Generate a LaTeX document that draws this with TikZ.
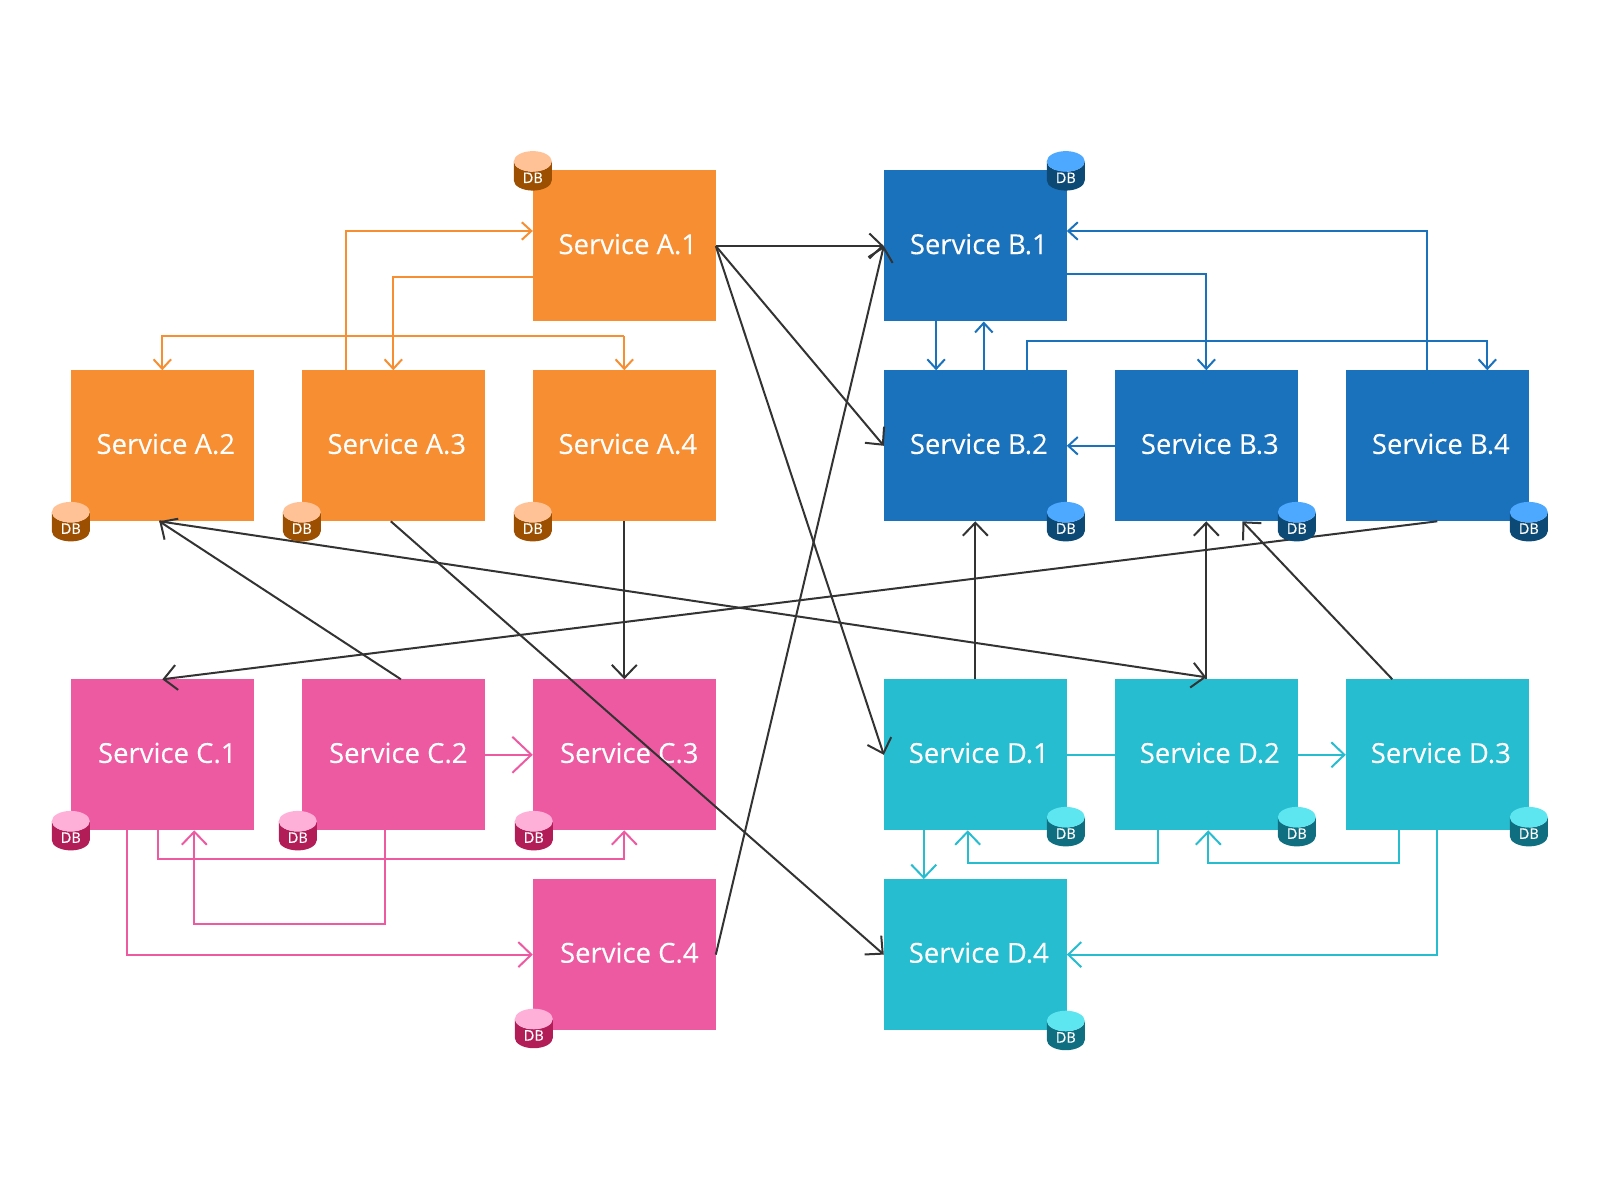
\documentclass[tikz,border=0pt]{standalone}
\usepackage{fontspec}
\setmainfont{Open Sans}
\usetikzlibrary{calc}
\usetikzlibrary{arrows.meta}
\usetikzlibrary{positioning}
\usetikzlibrary{shapes.geometric}
\definecolor{orangebox}{HTML}{F78E31}
\definecolor{orangedark}{HTML}{9C4F00}
\definecolor{orangetop}{HTML}{FFC297}
\definecolor{bluebox}{HTML}{1B72BC}
\definecolor{bluedark}{HTML}{0C4A75}
\definecolor{bluetop}{HTML}{4DA8FF}
\definecolor{pinkbox}{HTML}{EE5AA1}
\definecolor{pinkdark}{HTML}{B21C57}
\definecolor{pinktop}{HTML}{FFB0D9}
\definecolor{tealbox}{HTML}{27BDD0}
\definecolor{tealdark}{HTML}{0F6E80}
\definecolor{tealtop}{HTML}{5EE6F0}
\definecolor{wire}{HTML}{333333}
\newcommand{\svc}[1]{\hspace*{7pt}\raisebox{4pt}{Service #1}}
\newcommand{\svcc}[1]{\hspace*{10pt}\raisebox{4pt}{Service #1}}
\newcommand{\dblabel}{\raisebox{-4pt}{DB}}

\begin{document}
\begin{tikzpicture}[x=1pt, y=1pt, node distance = 48.8pt and 48pt,
  service/.style={
    % The shape:
    rectangle,
    minimum width=183pt,
    minimum height=151pt,
    inner sep=0pt, outer sep=0pt,
    % The text:
    text=white,
    font=\fontsize{27.5}{30}\selectfont\addfontfeature{FakeBold=0.15}
  },
  dbase/.style={
    cylinder, shape border rotate=90, aspect=1.03,
    minimum width=38pt, minimum height=39.5pt,
    text height=5pt, text depth=0pt,
    inner sep=0pt, outer sep=0pt, yshift=-6pt,
    cylinder uses custom fill,
    text=white,
    font=\fontsize{14.5}{16}\selectfont\addfontfeature{FakeBold=0.2}
  },
  sa/.style={service, fill=orangebox},
  sb/.style={service, fill=bluebox},
  sc/.style={service, fill=pinkbox},
  sd/.style={service, fill=tealbox},
  dba/.style={dbase, cylinder body fill=orangedark, cylinder end fill=orangetop},
  dbb/.style={dbase, cylinder body fill=bluedark, cylinder end fill=bluetop},
  dbc/.style={dbase, cylinder body fill=pinkdark, cylinder end fill=pinktop},
  dbd/.style={dbase, cylinder body fill=tealdark, cylinder end fill=tealtop},
  smalltip/.style={-{Straight Barb[length=9.5pt, width=17.5pt]}},
  bigtip/.style={-{Straight Barb[length=13pt, width=25pt]}},
  hugetip/.style={-{Straight Barb[length=19pt, width=36pt]}},
  line width=2pt]

  \useasboundingbox (0,0) rectangle (1600,1200);

  % Services
  \node (a1) [sa] at (624.3,954) {\svc{A.1}};
  \node (a4) [sa, below = of a1] {\svc{A.4}};
  \node (a3) [sa, left = of a4] {\svc{A.3}};
  \node (a2) [sa, left = of a3] {\svc{A.2}};

  \node (c3) [sc, below = 158pt of a4] {\svcc{C.3}};
  \node (c2) [sc, left = of c3] {\svcc{C.2}};
  \node (c1) [sc, left = of c2] {\svcc{C.1}};
  \node (c4) [sc, below = of c3] {\svcc{C.4}};

  \node (b1) [sb, right = 168pt of a1] {\svc{B.1}};
  \node (b2) [sb, below = of b1] {\svc{B.2}};
  \node (b3) [sb, right = of b2] {\svc{B.3}};
  \node (b4) [sb, right = of b3] {\svc{B.4}};

  \node (d1) [sd, below = 158pt of b2] {\svc{D.1}};
  \node (d2) [sd, right = of d1] {\svc{D.2}};
  \node (d3) [sd, right = of d2] {\svc{D.3}};
  \node (d4) [sd, below = of d1] {\svc{D.4}};

  % Orange connectors
  \draw[orangebox, smalltip] ([xshift=-47.5pt]a3.north) |- ([yshift=15pt]a1.west);
  \draw[orangebox, smalltip] ([yshift=-30.6pt]a1.west) -| (a3.north);
  \coordinate (abus) at ([yshift=-14.3pt]a1.south);
  \draw[orangebox, smalltip] (abus) -| (a2.north);
  \draw[orangebox, smalltip] (abus) -- (a4.north);

  % Blue connectors
  \draw[bluebox, smalltip] ([xshift=-10.2pt]b4.north) |- ([yshift=15pt]b1.east);
  \draw[bluebox, smalltip] ([yshift=-28.5pt]b1.east) -| (b3.north);
  \draw[bluebox, smalltip] ([xshift=51.5pt]b2.north) -- ++(0,29) -| ([xshift=50pt]b4.north);
  \draw[bluebox, smalltip] ([xshift=-39.2pt]b1.south) -- ([xshift=-39.2pt]b2.north);
  \draw[bluebox, smalltip] ([xshift=8.5pt]b2.north) -- ([xshift=8.5pt]b1.south);
  \draw[bluebox, smalltip] (b3.west) -- (b2.east);

  % Pink connectors
  \draw[pinkbox, hugetip] (c2.east) -- (c3.west);
  \draw[pinkbox, bigtip] ([xshift=-4.6pt]c1.south) -- ++(0,-28.5) -| (c3.south);
  \draw[pinkbox, bigtip] ([xshift=-8.7pt]c2.south) -- ++(0,-94) -| ([xshift=32pt]c1.south);
  \draw[pinkbox, bigtip] ([xshift=-35pt]c1.south) |- (c4.west);

  % Teal connectors
  \draw[tealbox] (d1.east) -- (d2.west);
  \draw[tealbox, bigtip] (d2.east) -- (d3.west);
  \draw[tealbox, bigtip] ([xshift=-51.5pt]d1.south) -- ([xshift=-51.5pt]d4.north);
  \draw[tealbox, bigtip] ([xshift=-48pt]d2.south) -- ++(0,-32.6) -| ([xshift=-7.6pt]d1.south);
  \draw[tealbox, bigtip] ([xshift=-38.8pt]d3.south) -- ++(0,-32.6) -| ([xshift=2pt]d2.south);
  \draw[tealbox, bigtip] (d3.south) |- (d4.east);

  % Cross-team connectors
  \draw[wire, bigtip] (a1.east) -- (b1.west);
  \draw[wire, bigtip] (a1.east) -- (b2.west);
  \draw[wire, bigtip] (a1.east) -- (d1.west);
  \draw[wire, bigtip] (c4.east) -- (b1.west);
  \draw[wire, bigtip] ([xshift=-2.5pt]a3.south) -- (d4.west);
  \draw[wire, bigtip] ([xshift=7.6pt]c2.north) -- ([xshift=-3pt]a2.south);
  \draw[wire, bigtip] ([xshift=-3pt]a2.south) -- ([yshift=2pt]d2.north);
  \draw[wire, bigtip] (a4.south) -- (c3.north);
  \draw[wire, bigtip] (b4.south) -- (c1.north);
  \draw[wire, bigtip] (d1.north) -- (b2.south);
  \draw[wire, bigtip] (d2.north) -- (b3.south);
  \draw[wire, bigtip] ([xshift=-45pt]d3.north) -- ([xshift=36pt]b3.south);

  % Databases
  \node (dba1) [dba] at (a1.north west) {\dblabel};
  \node (dba2) [dba] at (a2.south west) {\dblabel};
  \node (dba3) [dba] at (a3.south west) {\dblabel};
  \node (dba4) [dba] at (a4.south west) {\dblabel};
  \node (dbb1) [dbb] at ([xshift=-1pt]b1.north east) {\dblabel};
  \node (dbb2) [dbb] at ([xshift=-1pt]b2.south east) {\dblabel};
  \node (dbb3) [dbb] at ([xshift=-1pt]b3.south east) {\dblabel};
  \node (dbb4) [dbb] at (b4.south east) {\dblabel};
  \node (dbc1) [dbc] at (c1.south west) {\dblabel};
  \node (dbc2) [dbc] at ([xshift=-4pt]c2.south west) {\dblabel};
  \node (dbc3) [dbc] at ([xshift=1pt]c3.south west) {\dblabel};
  \node (dbc4) [dbc, yshift=2pt] at ([xshift=1pt]c4.south west) {\dblabel};
  \node (dbd1) [dbd, yshift=4pt] at ([xshift=-1pt]d1.south east) {\dblabel};
  \node (dbd2) [dbd, yshift=4pt] at ([xshift=-1pt]d2.south east) {\dblabel};
  \node (dbd3) [dbd, yshift=4pt] at (d3.south east) {\dblabel};
  \node (dbd4) [dbd] at ([xshift=-1pt]d4.south east) {\dblabel};
\end{tikzpicture}
\end{document}
